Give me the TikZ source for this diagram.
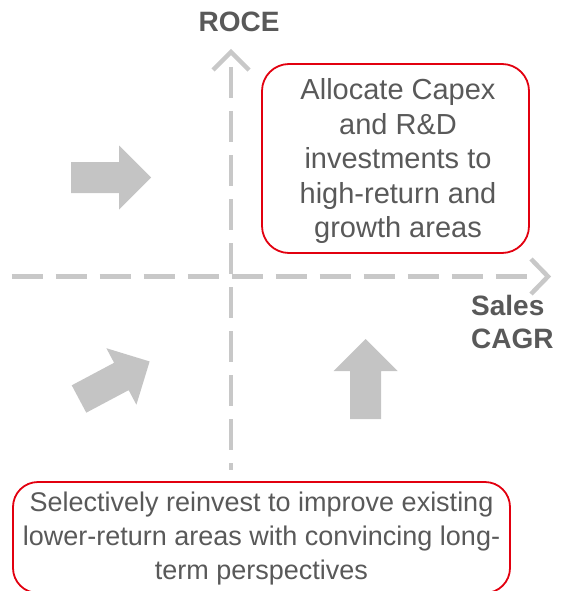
\documentclass[tikz,border=0pt]{standalone}
\usepackage{fontspec}
\setmainfont{Liberation Sans}
\definecolor{axisgray}{HTML}{C8C8C8}
\definecolor{blockgray}{HTML}{C4C4C4}
\definecolor{textgray}{HTML}{595959}
\definecolor{boxred}{HTML}{E2000F}
\begin{document}
\begin{tikzpicture}
      [x=1pt,y=-1pt
      ,axis/.style={color=axisgray,line width=4.5pt,dash pattern=on 31pt off 13pt}
      ,chev/.style={color=axisgray,line width=4.5pt}
      ,blk/.style={fill=blockgray}
      ,lbl/.style={text=textgray,font=\fontsize{28}{33}\selectfont\bfseries,inner sep=0pt}
      ,box/.style={draw=boxred,line width=1.8pt}
      ,txt/.style={text=textgray,align=center,inner sep=0pt}
      ]
        \useasboundingbox (0,0) rectangle (560,591);

        % axes
        \draw[axis] (231,67) -- (231,470);
        \draw[chev] (213,70) -- (231,52) -- (249,70);
        \draw[axis] (11.5,276.5) -- (531,276.5);
        \draw[chev] (531,259) -- (548,276.5) -- (531,294);

        \node[lbl] (roce) at (239,22) {ROCE};
        \node[lbl,anchor=west,align=left] (cagr) at (471,322) {Sales\\CAGR};

        % block arrows
        \foreach \px/\py/\ang in {71/177.5/0, 79/399/28, 365.5/419/90}{
            \fill[blk,shift={(\px,\py)},rotate=\ang]
                (0,-15.5) -- (48,-15.5) -- (48,-32) -- (80,0) -- (48,32) -- (48,15.5) -- (0,15.5) -- cycle;
        }

        % boxes
        \draw[box,rounded corners=27pt] (262,64) rectangle (529,253);
        \node[txt,font=\fontsize{29}{34.5}\selectfont] (grow) at (398,161)
            {Allocate Capex\\and R\&D\\investments to\\high-return and\\growth areas};
        \draw[box,rounded corners=25pt] (13,482) rectangle (510,593);
        \node[txt,font=\fontsize{27}{34}\selectfont] (reinv) at (261.5,539)
            {Selectively reinvest to improve existing\\lower-return areas with convincing long-\\term perspectives};
      \end{tikzpicture}
\end{document}
